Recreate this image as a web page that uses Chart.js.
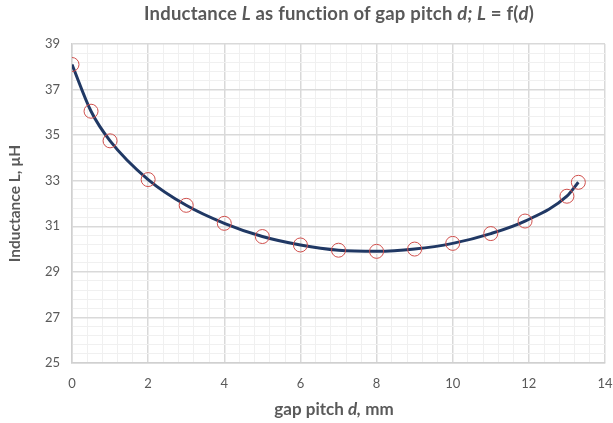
<!DOCTYPE html>
<html lang="en">
<head>
<meta charset="UTF-8">
<title>Inductance L as function of gap pitch d</title>
<script src="https://cdn.jsdelivr.net/npm/chart.js"></script>
<style>
  body { margin: 0; background: #fff; }
  #wrap { position: relative; width: 613px; height: 423px; font-family: Lato, "Open Sans", sans-serif; color: #595959; }
  #title { position: absolute; left: 0; width: 678px; top: 2px; text-align: center; font-weight: bold; font-size: 18.5px; letter-spacing: 0.2px; white-space: nowrap; }
  #xtitle { position: absolute; left: 62px; width: 544px; top: 398px; text-align: center; font-weight: bold; font-size: 17px; white-space: nowrap; }
</style>
</head>
<body>
<div id="wrap">
  <canvas id="chart" width="613" height="423"></canvas>
  <div id="title">Inductance <i>L</i> as function of gap pitch <i>d; L</i> = f(<i>d</i>)</div>
  <div id="xtitle">gap pitch <i>d,</i> mm</div>
</div>
<script>
const gapPitch = [0, 0.5, 1, 2, 3, 4, 5, 6, 7, 8, 9, 10, 11, 11.9, 13, 13.3];
const inductance = [38.1, 36.05, 34.75, 33.05, 31.92, 31.13, 30.55, 30.18, 29.95, 29.9, 30.0, 30.25, 30.68, 31.23, 32.32, 32.93];

const xTicks = [0, 2, 4, 6, 8, 10, 12, 14];
const yTicks = [25, 27, 29, 31, 33, 35, 37, 39];

const points = gapPitch.map((d, i) => ({ x: d, y: inductance[i] }));

function isMajor(v, list) {
  return list.some(t => Math.abs(t - v) < 1e-6);
}

const ctx = document.getElementById('chart').getContext('2d');
new Chart(ctx, {
  type: 'scatter',
  data: {
    datasets: [
      {
        // measured markers
        data: points,
        showLine: false,
        pointRadius: 7,
        pointHoverRadius: 7,
        pointBackgroundColor: 'rgba(0,0,0,0)',
        pointBorderColor: '#d0504d',
        pointBorderWidth: 1,
        order: 0
      },
      {
        // smooth curve through the points
        data: points,
        showLine: true,
        tension: 0.4,
        cubicInterpolationMode: 'monotone',
        borderColor: '#203864',
        borderWidth: 3,
        pointRadius: 0,
        order: 1
      }
    ]
  },
  options: {
    responsive: false,
    animation: false,
    layout: { padding: { top: 44, right: 7, left: 6, bottom: 0 } },
    plugins: { legend: { display: false }, tooltip: { enabled: false } },
    scales: {
      x: {
        type: 'linear',
        min: 0,
        max: 14,
        afterBuildTicks: s => {
          const t = [];
          for (let k = 0; k <= 35; k++) t.push({ value: Math.round(k * 0.4 * 10) / 10 });
          s.ticks = t;
        },
        afterFit: s => { s.height = 60; s.paddingRight = 0; },
        grid: {
          drawTicks: false,
          color: c => isMajor(c.tick.value, xTicks) ? '#d9d9d9' : '#f0f0f0',
          lineWidth: c => isMajor(c.tick.value, xTicks) ? 1.5 : 1
        },
        border: { color: '#d0d0d0', width: 1.5 },
        ticks: {
          autoSkip: false,
          maxRotation: 0,
          padding: 13,
          color: '#595959',
          font: { family: 'Lato', size: 13 },
          callback: v => isMajor(v, xTicks) ? String(Math.round(v)) : ''
        }
      },
      y: {
        min: 25,
        max: 39,
        afterBuildTicks: s => {
          const t = [];
          for (let k = 0; k <= 35; k++) t.push({ value: Math.round((25 + k * 0.4) * 10) / 10 });
          s.ticks = t;
        },
        afterFit: s => { s.width = 66; },
        grid: {
          drawTicks: false,
          color: c => isMajor(c.tick.value, yTicks) ? '#d9d9d9' : '#f0f0f0',
          lineWidth: c => isMajor(c.tick.value, yTicks) ? 1.5 : 1
        },
        border: { color: '#d0d0d0', width: 1.5 },
        ticks: {
          autoSkip: false,
          padding: 12,
          color: '#595959',
          font: { family: 'Lato', size: 13 },
          callback: v => isMajor(v, yTicks) ? String(Math.round(v)) : ''
        },
        title: {
          display: true,
          text: 'Inductance L, µH',
          color: '#595959',
          font: { family: 'Lato', size: 15.5, weight: 'bold' },
          padding: { top: 0, bottom: 4 }
        }
      }
    }
  }
});
</script>
</body>
</html>
